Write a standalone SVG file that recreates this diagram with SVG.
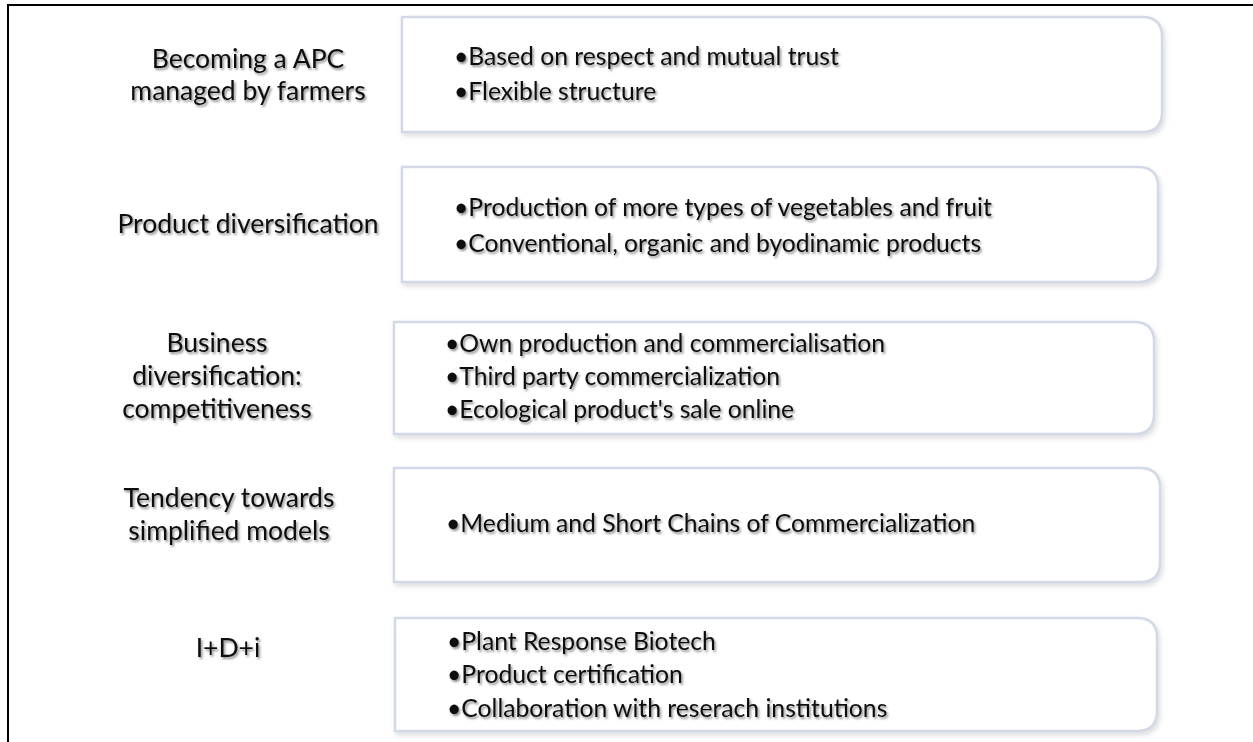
<svg xmlns="http://www.w3.org/2000/svg" width="1253" height="742" viewBox="0 0 1253 742">
  <defs>
    <filter id="txtShadow" x="-5%" y="-30%" width="110%" height="170%">
      <feDropShadow dx="1.5" dy="2" stdDeviation="1.2" flood-color="#000" flood-opacity="0.45"/>
    </filter>
    <filter id="boxShadow" x="-3%" y="-10%" width="106%" height="125%">
      <feDropShadow dx="2" dy="3" stdDeviation="2.5" flood-color="#9aa0aa" flood-opacity="0.35"/>
    </filter>
  </defs>
  <style>
    .frame { stroke: #000; stroke-width: 2; fill: none; }
    .box { fill: #fff; stroke: #d3d9e6; stroke-width: 2.5; filter: url(#boxShadow); }
    .label { font-family: Lato, "Liberation Sans", sans-serif; font-size: 26.5px; fill: #111; text-anchor: middle; filter: url(#txtShadow); }
    .item { font-family: Lato, "Liberation Sans", sans-serif; font-size: 24.7px; fill: #111; filter: url(#txtShadow); }
  </style>

  <rect width="1253" height="742" fill="#fff"/>

  <!-- outer frame: top rule and left rule -->
  <path class="frame" d="M8 742 V5 H1253"/>

  <!-- row 1 -->
  <g id="row-apc">
    <path class="box" d="M402 17 H1142 Q1162 17 1162 37 V112 Q1162 132 1142 132 H402 Z"/>
    <text class="label" x="248" y="68">Becoming a APC</text>
    <text class="label" x="248" y="100">managed by farmers</text>
    <text class="item" x="454" y="65">•Based on respect and mutual trust</text>
    <text class="item" x="454" y="100">•Flexible structure</text>
  </g>

  <!-- row 2 -->
  <g id="row-product">
    <path class="box" d="M402 167 H1138 Q1158 167 1158 187 V262 Q1158 282 1138 282 H402 Z"/>
    <text class="label" x="248" y="233">Product diversification</text>
    <text class="item" x="454" y="216">•Production of more types of vegetables and fruit</text>
    <text class="item" x="454" y="252">•Conventional, organic and byodinamic products</text>
  </g>

  <!-- row 3 -->
  <g id="row-business">
    <path class="box" d="M394 322 H1134 Q1154 322 1154 342 V414 Q1154 434 1134 434 H394 Z"/>
    <text class="label" x="217" y="352">Business</text>
    <text class="label" x="217" y="385">diversification:</text>
    <text class="label" x="217" y="418">competitiveness</text>
    <text class="item" x="445" y="352">•Own production and commercialisation</text>
    <text class="item" x="445" y="385">•Third party commercialization</text>
    <text class="item" x="445" y="418">•Ecological product's sale online</text>
  </g>

  <!-- row 4 -->
  <g id="row-models">
    <path class="box" d="M394 468 H1140 Q1160 468 1160 488 V562 Q1160 582 1140 582 H394 Z"/>
    <text class="label" x="229" y="507">Tendency towards</text>
    <text class="label" x="229" y="540">simplified models</text>
    <text class="item" x="446" y="532">•Medium and Short Chains of Commercialization</text>
  </g>

  <!-- row 5 -->
  <g id="row-rdi">
    <path class="box" d="M395 618 H1137 Q1157 618 1157 638 V711 Q1157 731 1137 731 H395 Z"/>
    <text class="label" x="228" y="657">I+D+i</text>
    <text class="item" x="447" y="650">•Plant Response Biotech</text>
    <text class="item" x="447" y="683">•Product certification</text>
    <text class="item" x="447" y="717">•Collaboration with reserach institutions</text>
  </g>
</svg>
